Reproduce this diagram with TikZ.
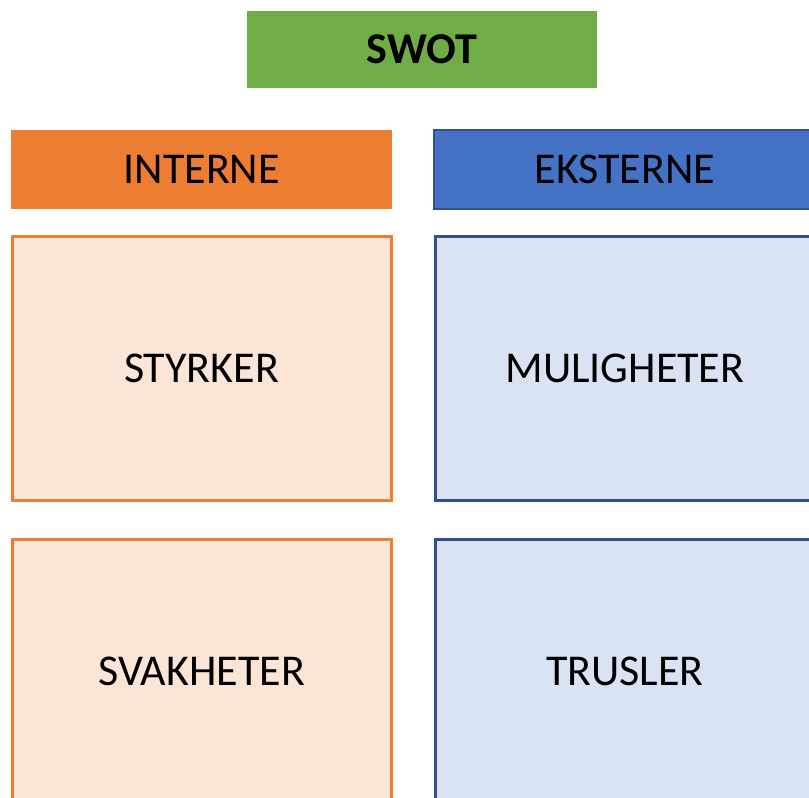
\documentclass[tikz,border=0pt]{standalone}
\usepackage{fontspec}
\setmainfont{Carlito}
\usetikzlibrary{positioning}

\definecolor{swotgreen}{HTML}{70AD47}
\definecolor{intorange}{HTML}{ED7D31}
\definecolor{intlight}{HTML}{FBE5D6}
\definecolor{extblue}{HTML}{4472C4}
\definecolor{extdark}{HTML}{2F528F}
\definecolor{extlight}{HTML}{DAE3F3}

\begin{document}
\begin{tikzpicture}[
  x=1pt, y=-1pt,
  font=\fontsize{44}{50}\selectfont,
  title/.style={fill=swotgreen, minimum width=350pt, minimum height=77pt, inner sep=0pt, font=\fontsize{44}{50}\selectfont\bfseries},
  head/.style={minimum width=381pt, minimum height=79pt, inner sep=0pt, anchor=north west},
  quad/.style={minimum width=379pt, minimum height=264pt, inner sep=0pt, line width=3pt, outer sep=0pt},
  int/.style={draw=intorange, fill=intlight},
  ext/.style={draw=extdark, fill=extlight},
]
\useasboundingbox (0,0) rectangle (809,798);
\clip (0,0) rectangle (809,798);

%% ============ title ============
\node[title] (swot) at (422,49.5) {SWOT};

%% ============ column heads ============
\node[head, fill=intorange] (inte) at (11,130) {INTERNE};
\node[head, fill=extblue, draw=extdark, line width=2pt, outer sep=0pt, right=42pt of inte.north east, anchor=north west] (ekst) {EKSTERNE};

%% ============ quadrants ============
\node[quad, int, below=27pt of inte.south west, anchor=north west, xshift=1pt] (styr) {STYRKER};
\node[quad, ext, below=27pt of ekst.south west, anchor=north west, xshift=1pt] (muli) {MULIGHETER};
\node[quad, int, below=39pt of styr.south west, anchor=north west] (svak) {SVAKHETER};
\node[quad, ext, below=39pt of muli.south west, anchor=north west] (trus) {TRUSLER};

\end{tikzpicture}
\end{document}
